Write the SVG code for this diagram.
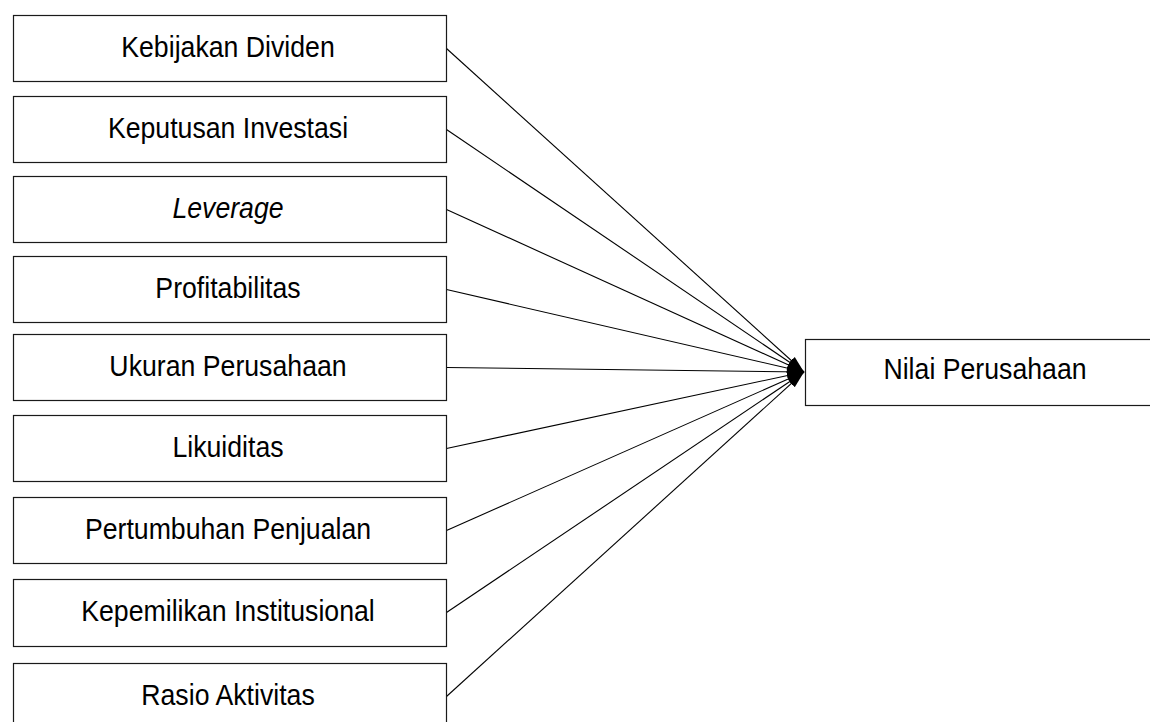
<svg xmlns="http://www.w3.org/2000/svg" width="1150" height="722" viewBox="0 0 1150 722">
  <style>
    .box { fill: #ffffff; stroke: #1a1a1a; stroke-width: 1.2; }
    .lbl { font-family: "Liberation Sans", Arial, sans-serif; font-size: 29px; fill: #000000; text-anchor: middle; }
    .it { font-style: italic; }
    .conn { stroke: #000000; stroke-width: 1.1; fill: none; marker-end: url(#arrow); }
  </style>
  <defs>
    <marker id="arrow" markerUnits="userSpaceOnUse" markerWidth="20" markerHeight="12" refX="17" refY="6" orient="auto">
      <path d="M0,1 L17,6 L0,11 Z" fill="#000000"/>
    </marker>
  </defs>
  <rect width="1150" height="722" fill="#ffffff"/>

  <g id="connectors">
    <line class="conn" x1="446.5" y1="48.5" x2="804" y2="372"/>
    <line class="conn" x1="446.5" y1="129.5" x2="804" y2="372"/>
    <line class="conn" x1="446.5" y1="209.5" x2="804" y2="372"/>
    <line class="conn" x1="446.5" y1="289.5" x2="804" y2="372"/>
    <line class="conn" x1="446.5" y1="367.5" x2="804" y2="372"/>
    <line class="conn" x1="446.5" y1="448.5" x2="804" y2="372"/>
    <line class="conn" x1="446.5" y1="530.5" x2="804" y2="372"/>
    <line class="conn" x1="446.5" y1="612.5" x2="804" y2="372"/>
    <line class="conn" x1="446.5" y1="696.5" x2="804" y2="372"/>
  </g>

  <g id="kebijakan-dividen">
    <rect class="box" x="13.5" y="15.5" width="433" height="66"/>
    <text class="lbl" transform="translate(228,56.5) scale(0.92,1)">Kebijakan Dividen</text>
  </g>
  <g id="keputusan-investasi">
    <rect class="box" x="13.5" y="96.5" width="433" height="66"/>
    <text class="lbl" transform="translate(228,137.5) scale(0.92,1)">Keputusan Investasi</text>
  </g>
  <g id="leverage">
    <rect class="box" x="13.5" y="176.5" width="433" height="66"/>
    <text class="lbl it" transform="translate(228,217.5) scale(0.92,1)">Leverage</text>
  </g>
  <g id="profitabilitas">
    <rect class="box" x="13.5" y="256.5" width="433" height="66"/>
    <text class="lbl" transform="translate(228,297.5) scale(0.92,1)">Profitabilitas</text>
  </g>
  <g id="ukuran-perusahaan">
    <rect class="box" x="13.5" y="334.5" width="433" height="66"/>
    <text class="lbl" transform="translate(228,375.5) scale(0.92,1)">Ukuran Perusahaan</text>
  </g>
  <g id="likuiditas">
    <rect class="box" x="13.5" y="415.5" width="433" height="66"/>
    <text class="lbl" transform="translate(228,456.5) scale(0.92,1)">Likuiditas</text>
  </g>
  <g id="pertumbuhan-penjualan">
    <rect class="box" x="13.5" y="497.5" width="433" height="66"/>
    <text class="lbl" transform="translate(228,538.5) scale(0.92,1)">Pertumbuhan Penjualan</text>
  </g>
  <g id="kepemilikan-institusional">
    <rect class="box" x="13.5" y="579.5" width="433" height="67"/>
    <text class="lbl" transform="translate(228,620.5) scale(0.92,1)">Kepemilikan Institusional</text>
  </g>
  <g id="rasio-aktivitas">
    <rect class="box" x="13.5" y="663.5" width="433" height="70"/>
    <text class="lbl" transform="translate(228,704.5) scale(0.92,1)">Rasio Aktivitas</text>
  </g>

  <g id="nilai-perusahaan">
    <rect class="box" x="805.5" y="339.5" width="360" height="66"/>
    <text class="lbl" transform="translate(985,379) scale(0.92,1)">Nilai Perusahaan</text>
  </g>
</svg>
